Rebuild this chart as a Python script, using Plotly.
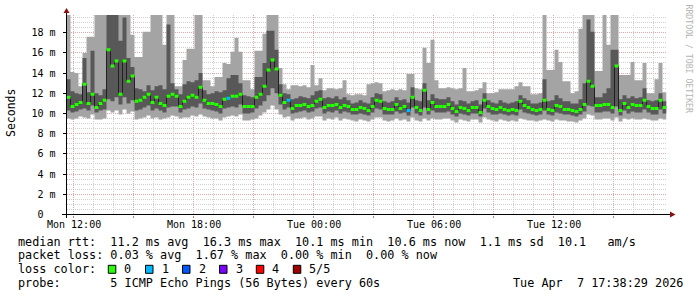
import plotly.graph_objects as go
from datetime import datetime, timedelta

W, H = 697, 297
def px(x): return x / W
def py(y): return 1 - y / H

START = datetime(2026, 4, 6, 11, 38, 29)
END = datetime(2026, 4, 7, 17, 38, 29)
STEP = 720  # seconds per consolidated sample

median = [
11.6,10.7,10.9,11.1,12.9,11.0,11.9,10.6,11.0,11.3,
16.3,14.7,15.2,11.9,15.2,13.2,13.7,11.2,11.3,11.6,
11.9,11.1,11.6,11.0,10.8,11.7,11.9,11.7,10.7,11.2,
11.6,11.8,11.6,12.6,11.3,11.0,11.0,10.9,10.7,11.4,
11.5,11.7,11.7,11.9,10.7,10.7,10.7,11.6,11.9,12.7,
14.3,15.3,14.4,11.8,11.1,11.3,10.5,10.8,10.8,10.9,
10.7,10.8,11.2,11.4,10.6,10.8,10.8,10.9,10.6,10.8,
10.7,10.4,10.4,10.6,10.5,10.3,10.7,11.3,11.2,10.5,
10.4,10.4,10.9,10.5,10.7,10.3,11.6,10.6,10.3,12.3,
10.4,11.1,10.7,10.7,10.7,10.9,10.5,10.2,10.6,10.5,
10.3,10.6,10.6,10.1,11.3,10.7,10.5,10.4,10.6,10.4,
10.3,10.4,10.3,11.2,10.8,10.6,10.4,10.3,10.4,11.3,
10.4,10.3,10.8,10.7,10.4,10.4,10.3,10.2,10.4,10.9,
13.2,12.7,10.8,10.8,10.9,10.9,10.6,14.7,10.3,11.0,
10.6,10.9,10.8,10.8,11.3,10.7,10.5,10.5,11.3,10.6]

ping4 = [
13.4,12.2,12.0,11.9,15.5,12.1,16.2,12.0,11.8,12.4,
19.8,19.8,19.8,17.2,19.5,15.5,14.6,12.5,12.4,12.2,
12.8,12.3,12.7,12.8,12.4,18.8,13.0,12.4,11.9,12.9,
13.2,13.1,13.3,14.0,12.3,11.9,12.0,12.2,12.1,12.3,
13.5,13.8,13.8,13.0,11.8,11.7,11.6,13.6,13.6,15.0,
18.2,18.2,16.3,12.9,12.0,11.9,11.4,11.5,11.7,11.6,
11.5,11.8,12.2,12.3,11.5,11.6,11.5,11.7,11.4,11.6,
11.3,11.0,11.1,11.3,11.1,11.0,11.6,12.0,11.9,11.2,
11.1,11.2,11.6,11.3,11.4,11.1,12.6,11.3,11.2,13.0,
11.3,11.9,11.5,11.4,11.4,11.6,11.2,10.9,11.3,11.2,
11.0,11.2,11.3,10.9,12.0,11.3,11.1,11.0,11.3,11.1,
11.0,11.1,11.2,11.8,11.5,11.3,11.0,11.0,11.1,13.4,
11.2,11.3,11.8,11.5,11.2,11.2,11.0,11.0,11.4,13.0,
19.3,18.1,11.6,11.6,12.0,12.5,16.3,16.3,11.4,11.8,
11.5,11.7,11.5,11.6,12.5,11.3,11.2,11.3,12.0,11.2]

ping5 = [
19.8,14.1,14.0,12.7,16.0,17.6,17.6,19.8,19.8,19.8,
19.8,19.8,19.8,19.8,19.8,19.8,17.8,15.6,15.6,18.1,
18.1,19.8,19.8,19.8,16.8,19.8,19.8,12.7,12.7,15.3,
16.4,16.4,19.8,19.8,13.3,13.3,12.7,13.6,13.6,15.0,
14.9,16.1,17.5,16.1,13.3,13.3,12.4,16.2,16.2,17.9,
19.8,19.8,19.8,14.5,12.9,12.4,12.8,12.8,12.7,12.8,
12.6,14.8,12.8,13.5,12.3,12.5,12.5,12.4,12.5,13.3,
11.9,11.8,11.9,11.9,11.8,12.9,13.0,13.1,13.0,12.2,
12.3,12.4,12.3,12.4,12.3,13.9,13.9,12.5,12.4,16.5,
15.0,17.3,13.3,12.5,12.5,12.6,12.5,12.4,12.5,14.5,
12.2,12.2,12.3,12.5,13.1,12.0,12.0,12.1,12.4,12.4,
12.4,12.4,12.7,13.1,12.7,12.7,11.9,11.9,12.0,19.8,
14.3,14.3,16.3,15.1,13.2,13.2,12.0,12.2,18.4,19.8,
19.8,19.8,14.2,14.2,19.8,16.8,19.8,19.8,13.8,13.8,
13.8,15.1,13.3,13.3,15.0,12.0,12.0,13.4,15.0,12.1]

ping2 = [
10.3,10.1,10.2,10.4,10.5,10.3,10.8,10.1,10.3,10.4,
11.4,11.2,11.6,10.9,11.6,11.0,11.3,10.3,10.4,10.6,
10.8,10.3,10.5,10.3,10.1,10.6,10.7,10.7,10.1,10.4,
10.5,10.7,10.6,11.0,10.5,10.4,10.3,10.2,10.0,10.5,
10.6,10.7,10.6,10.9,10.0,10.0,10.1,10.5,10.8,11.2,
11.8,12.5,12.0,10.9,10.4,10.6,10.0,10.1,10.2,10.3,
10.1,10.2,10.5,10.6,10.0,10.2,10.1,10.3,10.0,10.2,
10.1,9.9,9.9,10.0,9.9,9.8,10.1,10.5,10.4,9.9,
9.9,9.9,10.2,10.0,10.1,9.8,10.6,10.0,9.8,10.6,
9.9,10.3,10.1,10.1,10.1,10.2,9.9,9.7,10.0,9.9,
9.8,10.0,10.0,9.7,10.5,10.1,9.9,9.9,10.0,9.9,
9.8,9.9,9.8,10.4,10.1,10.0,9.9,9.8,9.9,10.3,
9.9,9.8,10.1,10.0,9.9,9.9,9.8,9.7,9.9,10.2,
10.8,10.7,10.1,10.1,10.2,10.2,10.0,10.7,9.8,10.3,
10.0,10.2,10.1,10.1,10.4,10.1,9.9,9.9,10.4,10.0]

ping1 = [
9.5,9.4,9.5,9.7,9.6,9.5,9.9,9.4,9.4,9.5,
10.3,10.1,10.3,9.9,10.4,10.0,10.2,9.4,9.5,9.6,
9.8,9.5,9.6,9.4,9.5,9.6,9.8,9.7,9.5,9.6,
9.6,9.8,9.7,9.9,9.7,9.6,9.5,9.5,9.3,9.6,
9.7,9.8,9.7,9.9,9.3,9.3,9.4,9.5,9.8,10.1,
10.4,10.8,10.4,9.9,9.6,9.7,9.3,9.5,9.5,9.6,
9.4,9.5,9.7,9.7,9.3,9.5,9.4,9.6,9.3,9.5,
9.4,9.3,9.2,9.4,9.3,9.2,9.4,9.6,9.6,9.3,
9.2,9.3,9.5,9.3,9.4,9.2,9.6,9.3,9.2,9.5,
9.3,9.5,9.4,9.4,9.5,9.5,9.3,9.1,9.4,9.3,
9.2,9.4,9.4,9.1,9.6,9.4,9.3,9.2,9.4,9.3,
9.2,9.3,9.2,9.5,9.4,9.3,9.3,9.2,9.3,9.4,
9.3,9.2,9.4,9.3,9.3,9.2,9.2,9.1,9.3,9.5,
9.9,9.8,9.4,9.4,9.5,9.5,9.3,9.6,9.2,9.5,
9.4,9.5,9.4,9.4,9.5,9.4,9.3,9.3,9.5,9.4]

loss_one_idx = [40, 55, 85]   # samples with 1 of 5 pings lost

loss_labels = ["0", "1", "2", "3", "4", "5/5"]
loss_colors = ["#26ff00", "#00b8ff", "#0059ff", "#7e00ff", "#ff0000", "#a00000"]

y_ticks = [0, 2, 4, 6, 8, 10, 12, 14, 16, 18]
y_ticktext = ["0\u00a0\u00a0"] + ["%d\u00a0m" % v for v in y_ticks[1:]]
x_tick_labels = ["Mon 12:00", "", "Mon 18:00", "", "Tue 00:00", "", "Tue 06:00", "", "Tue 12:00", ""]
x_tick_times = [datetime(2026, 4, 6, 12) + timedelta(hours=3 * k) for k in range(10)]

legend_lines = [
    "median rtt:  11.2 ms avg  16.3 ms max  10.1 ms min  10.6 ms now  1.1 ms sd  10.1   am/s",
    "packet loss: 0.03 % avg  1.67 % max  0.00 % min  0.00 % now",
    "loss color:",
    "probe:       5 ICMP Echo Pings (56 Bytes) every 60s",
]
stamp = "Tue Apr  7 17:38:29 2026"

N = len(median)
def t(i):
    return START + timedelta(seconds=STEP * i)

def steps(vals):
    xs, ys = [], []
    for i, v in enumerate(vals):
        xs += [t(i), t(i + 1)]
        ys += [v, v]
    return xs, ys

LIGHT = "#a4a4a4"
DARK = "#585858"

fig = go.Figure()
for lo, hi, col in [(ping1, ping5, LIGHT), (ping2, ping4, DARK)]:
    xs, ys = steps(lo)
    fig.add_trace(go.Scatter(x=xs, y=ys, mode="lines", line=dict(width=0), hoverinfo="skip"))
    xs, ys = steps(hi)
    fig.add_trace(go.Scatter(x=xs, y=ys, mode="lines", line=dict(width=0), fill="tonexty",
                             fillcolor=col, hoverinfo="skip"))

xs, ys = steps(median)
fig.add_trace(go.Scatter(x=xs, y=ys, mode="lines", line=dict(color="#202020", width=1), hoverinfo="skip"))

for lvl in (0, 1):
    sx, sy = [], []
    for i in range(N):
        lost = 1 if i in loss_one_idx else 0
        if lost != lvl:
            continue
        sx += [t(i), t(i + 1), None]
        sy += [median[i], median[i], None]
    fig.add_trace(go.Scatter(x=sx, y=sy, mode="lines", line=dict(color=loss_colors[lvl], width=3),
                             hoverinfo="skip"))

MONO = "DejaVu Sans Mono"
GRID = "#d0d0d0"
MGRID = "#dcaaaa"
X0, X1 = 66.5, 666.5
Y0, Y1 = 214.5, 15.0

fig.update_layout(
    width=W, height=H, margin=dict(l=0, r=0, t=0, b=0, pad=0), autosize=False,
    paper_bgcolor="white", plot_bgcolor="white", showlegend=False,
    font=dict(family=MONO, size=10, color="black"),
    xaxis=dict(type="date", range=[START, END], domain=[px(X0), px(X1)], automargin=False,
               tickmode="array", tickvals=x_tick_times, ticktext=[""] * len(x_tick_times),
               showticklabels=False,
               showgrid=True, gridcolor=MGRID, griddash="1px,1px", gridwidth=1,
               ticks="outside", ticklen=2, tickcolor="#c08080",
               showline=False, zeroline=False, layer="above traces",
               minor=dict(dtick=3600000, tick0="2026-04-06 00:00:00", showgrid=True,
                          gridcolor=GRID, griddash="1px,1px", gridwidth=1, ticks="")),
    yaxis=dict(range=[0, 19.75], domain=[py(Y0), py(Y1)], automargin=False,
               tickmode="array", tickvals=y_ticks, ticktext=y_ticktext,
               showgrid=True, gridcolor=MGRID, griddash="1px,1px", gridwidth=1,
               ticks="outside", ticklen=3, tickcolor="#000000",
               tickfont=dict(family=MONO, size=10), ticklabelstandoff=5,
               showline=False, zeroline=False, layer="above traces",
               minor=dict(dtick=0.5, showgrid=True, gridcolor=GRID, griddash="1px,1px",
                          gridwidth=1, ticks="")),
)

shapes = [
    dict(type="line", xref="paper", yref="paper", x0=px(62), x1=px(671), y0=py(Y0), y1=py(Y0),
         line=dict(color="black", width=1)),
    dict(type="line", xref="paper", yref="paper", x0=px(X0), x1=px(X0), y0=py(218), y1=py(12),
         line=dict(color="black", width=1)),
    dict(type="path", xref="paper", yref="paper",
         path="M %f %f L %f %f L %f %f Z" % (px(X0 - 3), py(13), px(X0 + 3), py(13), px(X0), py(8)),
         fillcolor="#8b1010", line=dict(width=0)),
    dict(type="path", xref="paper", yref="paper",
         path="M %f %f L %f %f L %f %f Z" % (px(670), py(Y0 - 3), px(670), py(Y0 + 3), px(675.5), py(Y0)),
         fillcolor="#8b1010", line=dict(width=0)),
]

ann = []
for tv, lab in zip(x_tick_times, x_tick_labels):
    if lab:
        ann.append(dict(x=tv, y=py(224.5), xref="x", yref="paper", xanchor="center", yanchor="middle",
                        text=lab.replace(" ", "\u00a0"), showarrow=False,
                        font=dict(family=MONO, size=10, color="black")))

LEG = 11.8
line_y = [241.5, 255.3, 269.0, 282.6]
for txt, yy in zip(legend_lines, line_y):
    ann.append(dict(x=px(16), y=py(yy), xref="paper", yref="paper", xanchor="left", yanchor="middle",
                    text=txt.replace(" ", "\u00a0"), showarrow=False,
                    font=dict(family=MONO, size=LEG, color="black")))
ann.append(dict(x=px(511), y=py(line_y[3]), xref="paper", yref="paper", xanchor="left", yanchor="middle",
                text=stamp.replace(" ", "\u00a0"), showarrow=False,
                font=dict(family=MONO, size=LEG, color="black")))

box_x = [108.3, 145.5, 182.5, 219.5, 256.3, 293.3]
for bx, lab, col in zip(box_x, loss_labels, loss_colors):
    shapes.append(dict(type="rect", xref="paper", yref="paper", x0=px(bx), x1=px(bx + 7.5),
                       y0=py(273.3), y1=py(265.3), fillcolor=col, line=dict(color="black", width=1)))
    ann.append(dict(x=px(bx + 14), y=py(line_y[2]), xref="paper", yref="paper", xanchor="left",
                    yanchor="middle", text=lab, showarrow=False,
                    font=dict(family=MONO, size=LEG, color="black")))

ann.append(dict(x=px(10.5), y=py(113.5), xref="paper", yref="paper", text="Seconds", textangle=-90,
                xanchor="center", yanchor="middle",
                showarrow=False, font=dict(family=MONO, size=11.5, color="black")))
ann.append(dict(x=px(688.5), y=py(59), xref="paper", yref="paper", text="RRDTOOL\u00a0/\u00a0TOBI\u00a0OETIKER",
                textangle=90, xanchor="center", yanchor="middle",
                showarrow=False, font=dict(family=MONO, size=8.2, color="#b4b4b4")))

fig.update_layout(shapes=shapes, annotations=ann)
fig.write_html("out.html")
